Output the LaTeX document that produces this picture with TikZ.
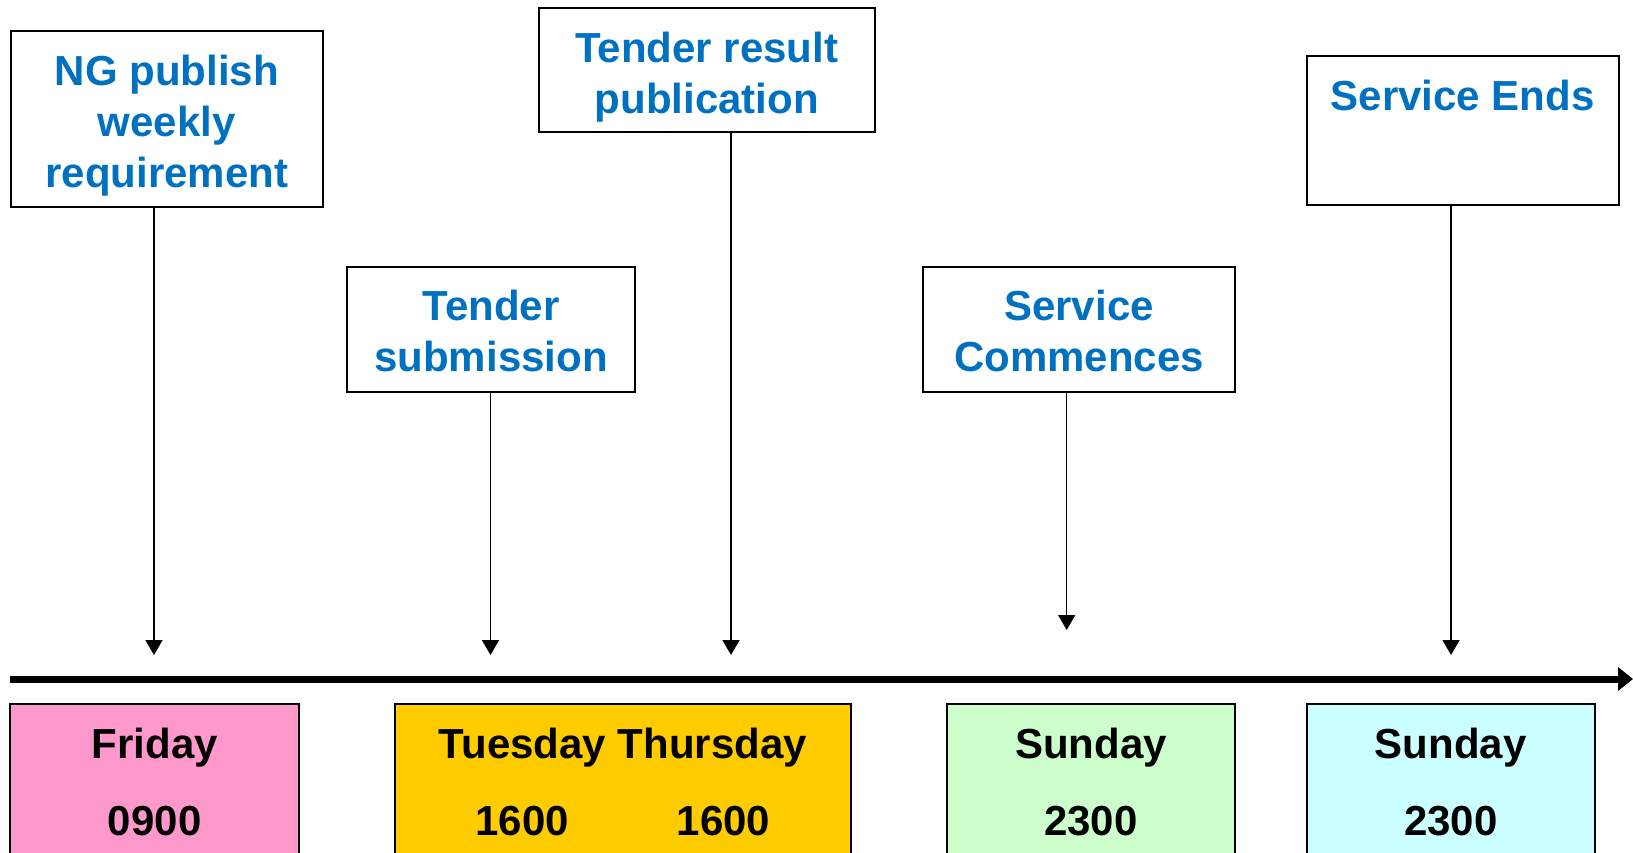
\documentclass[tikz,border=0pt]{standalone}
\usepackage{fontspec}
\setmainfont{Liberation Sans}
\usetikzlibrary{arrows.meta, positioning}

\definecolor{labelblue}{RGB}{0,112,192}
\definecolor{daypink}{RGB}{255,153,204}
\definecolor{dayyellow}{RGB}{255,204,0}
\definecolor{daygreen}{RGB}{204,255,204}
\definecolor{daycyan}{RGB}{204,255,255}

\tikzset{
    eventbox/.style={draw, line width=1pt, inner sep=0pt},
    eventtext/.style={align=center, text=labelblue, inner sep=0pt,
        font=\bfseries\fontsize{21}{25.5}\selectfont},
    daybox/.style={draw, line width=1pt, align=center, inner sep=0pt, minimum height=78pt,
        font=\bfseries\fontsize{21}{38.5}\selectfont},
    marker/.style={line width=0.75pt, -{Triangle[width=8.5pt, length=7.5pt]}},
    timeline/.style={line width=3.5pt, -{Triangle[width=11.5pt, length=7.5pt]}}
}

\begin{document}
\begin{tikzpicture}[x=0.5pt, y=-0.5pt]
    \useasboundingbox (0,0) rectangle (1633,852);

    % event boxes above the time line
    \node[eventbox, minimum width=156pt, minimum height=88pt] (ng) at (166.7,119.3) {};
    \node[eventbox, minimum width=168pt, minimum height=62pt] (tres) at (706.7,70.3) {};
    \node[eventbox, minimum width=155.7pt, minimum height=74.5pt] (send) at (1462.8,130.7) {};
    \node[eventbox, minimum width=144.3pt, minimum height=62.5pt] (tsub) at (491,329.1) {};
    \node[eventbox, minimum width=156.2pt, minimum height=62.5pt] (scom) at (1079,329.1) {};

    \node[eventtext, below=12pt of ng.north] (ng-text) {NG publish\\weekly\\requirement};
    \node[eventtext, below=12pt of tres.north] (tres-text) {Tender result\\publication};
    \node[eventtext, below=12pt of send.north] (send-text) {Service Ends};
    \node[eventtext, below=12pt of tsub.north] (tsub-text) {Tender\\submission};
    \node[eventtext, below=12pt of scom.north] (scom-text) {Service\\Commences};

    % days below the time line
    \node[daybox, fill=daypink, minimum width=144.3pt] (fri) at (154.7,782) {Friday\\0900};
    \node[daybox, fill=dayyellow, minimum width=228pt] (tt) at (622.9,782) {Tuesday Thursday\\1600\hspace{54pt}1600};
    \node[daybox, fill=daygreen, minimum width=144pt] (sun1) at (1090.9,782) {Sunday\\2300};
    \node[daybox, fill=daycyan, minimum width=143.8pt] (sun2) at (1450.8,782) {Sunday\\2300};

    \coordinate (t1) at (154,655);
    \coordinate (t2) at (490.5,655);
    \coordinate (t3) at (731,655);
    \coordinate (t4) at (1066.7,630);
    \coordinate (t5) at (1451,655);

    \draw[marker] (ng.south -| t1) -- (t1);
    \draw[marker] (tsub.south -| t2) -- (t2);
    \draw[marker] (tres.south -| t3) -- (t3);
    \draw[marker] (scom.south -| t4) -- (t4);
    \draw[marker] (send.south -| t5) -- (t5);

    \coordinate (tl0) at (10.4,679);
    \coordinate (tl1) at (1633,679);
    \draw[timeline] (tl0) -- (tl1);
\end{tikzpicture}
\end{document}
